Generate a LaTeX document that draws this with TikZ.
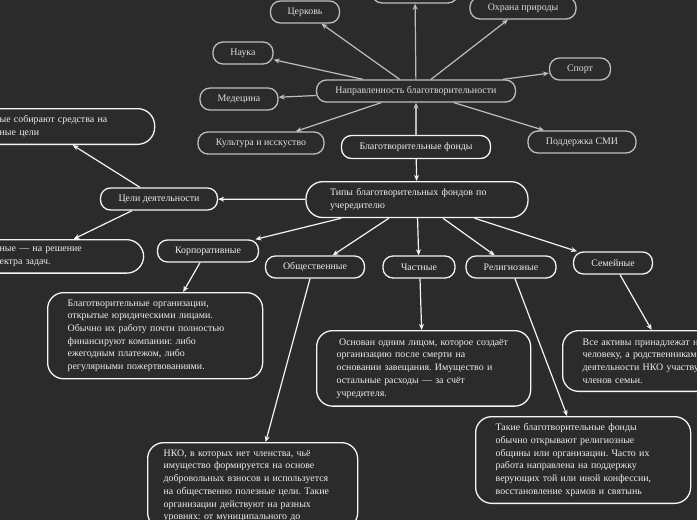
\documentclass[tikz,border=0pt]{standalone}
\usepackage{fontspec}
\setmainfont{Liberation Serif}
\usetikzlibrary{arrows.meta}
\definecolor{bg}{HTML}{2B2B2B}
\definecolor{topline}{HTML}{BDBDBD}
\definecolor{toptext}{HTML}{DDDDDD}
\definecolor{lowline}{HTML}{F4F4F4}
\definecolor{lowtext}{HTML}{EEEEEE}
\frenchspacing
\tikzset{
  base/.style={font=\fontsize{9.9}{12.7}\selectfont, line width=1.3pt, inner sep=0pt},
  topbox/.style={base, draw=topline, text=toptext, rounded corners=10pt, minimum height=22pt},
  lowbox/.style={base, draw=lowline, text=lowtext, rounded corners=10pt, minimum height=22pt},
  descbox/.style={base, draw=lowline, text=lowtext, rounded corners=16pt, align=left, inner xsep=20pt, inner ysep=7pt},
  toparrow/.style={draw=topline, line width=1.2pt, -{Stealth[length=6pt,width=5pt]}},
  lowarrow/.style={draw=lowline, line width=1.2pt, -{Stealth[length=6pt,width=5pt]}},
}
\begin{document}
\begin{tikzpicture}[x=1pt,y=-1pt]
\useasboundingbox (0,0) rectangle (697,520);
\fill[bg] (0,0) rectangle (697,520);
\clip (0,0) rectangle (697,520);
% top group
\node[topbox, minimum width=86pt] (topn) at (415,-8) {};
\node[topbox, minimum width=69pt] (church) at (305,12) {Церковь};
\node[topbox, minimum width=106pt] (nature) at (523,8) {Охрана природы};
\node[topbox, minimum width=60pt] (science) at (243,53) {Наука};
\node[topbox, minimum width=61pt] (sport) at (580,69) {Спорт};
\node[topbox, minimum width=78pt] (med) at (239,99) {Медецина};
\node[topbox, minimum width=199pt] (napr) at (416,91) {Направленность благотворительности};
\node[topbox, minimum width=126pt] (cult) at (261,143) {Культура и исскуство};
\node[topbox, minimum width=108pt] (smi) at (582,142) {Поддержка СМИ};
\node[lowbox, minimum width=149pt, minimum height=23pt] (funds) at (416,147) {Благотворительные фонды};
\draw[toparrow] (funds) -- (napr);
\draw[toparrow] (napr) -- (topn);
\draw[toparrow] (napr) -- (church);
\draw[toparrow] (napr) -- (nature);
\draw[toparrow] (napr) -- (science);
\draw[toparrow] (napr) -- (sport);
\draw[toparrow] (napr) -- (med);
\draw[toparrow] (napr) -- (cult);
\draw[toparrow] (napr) -- (smi);
% types
\node[descbox, rounded corners=17pt, inner xsep=24pt, text width=174pt, anchor=north] (types) at (417,181) {Типы благотворительных фондов по\\учередителю};
\draw[lowarrow] (funds) -- (types);
\node[lowbox, minimum width=117pt] (goals) at (159,199) {Цели деятельности};
\draw[lowarrow] (types) -- (goals);
\node[descbox, rounded corners=17pt, text width=135pt, anchor=north west] (gtop) at (-21,108) {ые собирают средства на\\ные цели};
\node[descbox, rounded corners=17pt, text width=124pt, anchor=north west] (gbot) at (-21,239) {ные — на решение\\ектра задач.};
\draw[lowarrow] ([xshift=-19pt]goals.north) -- ([xshift=5.5pt]gtop.south);
\draw[lowarrow] ([xshift=-27pt]goals.south) -- ([xshift=12pt]gbot.north);
% kinds
\node[lowbox, minimum width=101pt] (corp) at (208,251) {Корпоративные};
\node[lowbox, minimum width=99pt] (pub) at (315,267) {Общественные};
\node[lowbox, minimum width=72pt] (priv) at (419,267) {Частные};
\node[lowbox, minimum width=90pt] (rel) at (511,267) {Религиозные};
\node[lowbox, minimum width=79pt] (fam) at (613,263) {Семейные};
\draw[lowarrow] (types) -- (corp);
\draw[lowarrow] (types) -- (pub);
\draw[lowarrow] (types) -- (priv);
\draw[lowarrow] (types) -- (rel);
\draw[lowarrow] (types) -- (fam);
% descriptions
\node[descbox, text width=175pt, anchor=north west] (corpd) at (47,292) {Благотворительные организации,\\открытые юридическими лицами.\\Обычно их работу почти полностью\\финансируют компании: либо\\ежегодным платежом, либо\\регулярными пожертвованиями.};
\node[descbox, inner xsep=16pt, text width=178pt, anchor=north west] (pubd) at (147,442) {НКО, в которых нет членства, чьё\\имущество формируется на основе\\добровольных взносов и используется\\на общественно полезные цели. Такие\\организации действуют на разных\\уровнях: от муниципального до\\};
\node[descbox, inner ysep=8pt, text width=174pt, anchor=north west] (privd) at (316,330) {\hspace{2.5pt}Основан одним лицом, которое создаёт\\организацию после смерти на\\основании завещания. Имущество и\\остальные расходы — за счёт\\учредителя.};
\node[descbox, text width=175pt, anchor=north west] (reld) at (475,416) {Такие благотворительные фонды\\обычно открывают религиозные\\общины или организации. Часто их\\работа направлена на поддержку\\верующих той или иной конфессии,\\восстановление храмов и святынь};
\node[descbox, inner ysep=8pt, text width=178pt, anchor=north west] (famd) at (562,330) {Все активы принадлежат н\\человеку, а родственникам\\деятельности НКО участву\\членов семьи.};
\draw[lowarrow] ([xshift=-8pt]corp.south) -- ([xshift=28pt]corpd.north);
\draw[lowarrow] ([xshift=-5pt]pub.south) -- ([xshift=13pt]pubd.north);
\draw[lowarrow] ([xshift=1pt]priv.south) -- ([xshift=-2pt]privd.north);
\draw[lowarrow] ([xshift=4pt]rel.south) -- ([xshift=-16pt]reld.north);
\draw[lowarrow] ([xshift=7pt]fam.south) -- ([xshift=-20pt]famd.north);
\end{tikzpicture}
\end{document}
